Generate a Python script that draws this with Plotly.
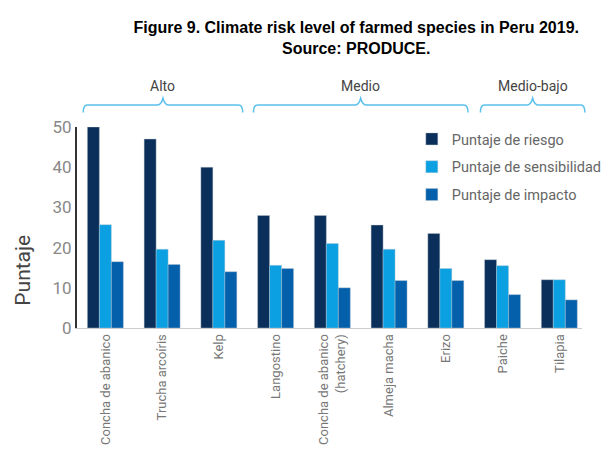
import plotly.graph_objects as go

categories = ["Concha de abanico", "Trucha arcoíris", "Kelp", "Langostino",
              "Concha de abanico<br>(hatchery)", "Almeja macha", "Erizo", "Paiche", "Tilapia"]
riesgo = [50, 47, 40, 28, 28, 25.6, 23.5, 17, 12]
sensibilidad = [25.7, 19.6, 21.8, 15.6, 21, 19.6, 14.8, 15.5, 12]
impacto = [16.5, 15.8, 14, 14.8, 10, 11.8, 11.8, 8.3, 7]
series_names = ["Puntaje de riesgo", "Puntaje de sensibilidad", "Puntaje de impacto"]
colors = ["#0b2f5b", "#0aa0e2", "#0560ac"]
groups = [("Alto", 0, 2), ("Medio", 3, 6), ("Medio-bajo", 7, 8)]
y_ticks = [0, 10, 20, 30, 40, 50]

fig = go.Figure()
for name, vals, col in zip(series_names, [riesgo, sensibilidad, impacto], colors):
    fig.add_trace(go.Bar(
        x=list(range(len(categories))), y=vals, name=name, legendgroup=name,
        marker=dict(color=col, line=dict(color="rgba(190,200,210,0.7)", width=0.6)),
    ))

XMIN, XMAX = -0.5, 8.4
def px(v):
    return (v - XMIN) / (XMAX - XMIN)

shapes = []
brace_col = "#5cc0ec"
rx, ry = 4 / 505.4, 7 / 201
y_line, y_peak, y_end = 1.109, 1.143, 1.072
ann = []
for label, a, b in groups:
    x0 = px(a - 0.39)
    x1 = px(b + 0.45) if b == 8 else px(b + 0.39)
    if label == "Alto":
        x1 = px(b + 0.42)
    xm = (x0 + x1) / 2
    w = 6 / 505.4
    path = (f"M {x0} {y_end} Q {x0} {y_line} {x0 + rx} {y_line} "
            f"L {xm - w} {y_line} Q {xm - w*0.3} {y_line} {xm} {y_peak} "
            f"Q {xm + w*0.3} {y_line} {xm + w} {y_line} "
            f"L {x1 - rx} {y_line} Q {x1} {y_line} {x1} {y_end}")
    shapes.append(dict(type="path", xref="paper", yref="paper", path=path,
                       line=dict(color=brace_col, width=1.5)))
    ann.append(dict(text=label, xref="paper", yref="paper", x=xm, y=y_peak + 0.012,
                    xanchor="center", yanchor="bottom", showarrow=False,
                    font=dict(family="Roboto", size=14, color="#444444")))

# y-axis title placed as in the reference (below the plot's vertical centre)
ann.append(dict(text="Puntaje", xref="paper", yref="paper", x=-0.107, y=0.29,
                xanchor="center", yanchor="middle", textangle=-90, showarrow=False,
                font=dict(family="Roboto", size=21, color="#444444")))

fig.update_layout(
    width=611, height=466,
    margin=dict(l=77, r=29, t=127, b=138, autoexpand=False),
    paper_bgcolor="white", plot_bgcolor="white",
    barmode="group", bargap=0.366, bargroupgap=0,
    font=dict(family="Roboto", color="#777777"),
    title=dict(text="<b>Figure 9. Climate risk level of farmed species in Peru 2019.<br>Source: PRODUCE.</b>",
               x=0.583, xanchor="center", y=0.929, yanchor="top",
               font=dict(family="Liberation Sans, Arial", size=16, color="#000000")),
    xaxis=dict(range=[XMIN, XMAX], tickmode="array", tickvals=list(range(len(categories))),
               ticktext=categories, tickangle=-90, showgrid=False, showline=True,
               linecolor="#cccccc", linewidth=1, ticks="", zeroline=False,
               tickfont=dict(family="Roboto", size=13, color="#777777")),
    yaxis=dict(range=[0, 50], tickvals=y_ticks, showgrid=False, showline=True,
               linecolor="#333333", linewidth=2, ticks="", zeroline=False,
               tickfont=dict(family="Roboto", size=17, color="#888888")),
    legend=dict(x=0.663, y=1.02, xanchor="left", yanchor="top",
                font=dict(family="Roboto", size=14.5, color="#666666"),
                tracegroupgap=6, itemwidth=30, bgcolor="rgba(0,0,0,0)"),
    shapes=shapes, annotations=ann,
)
fig.write_html("out.html")
